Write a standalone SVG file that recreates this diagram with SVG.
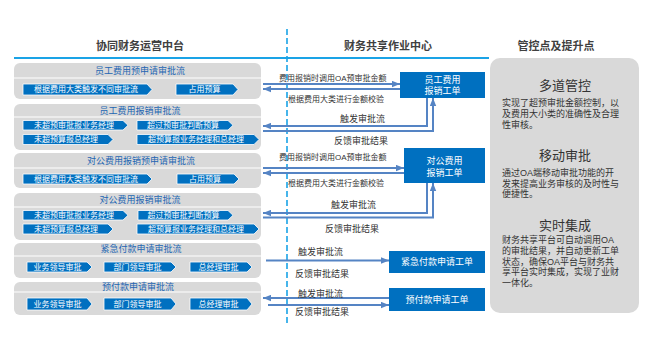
<svg xmlns="http://www.w3.org/2000/svg" width="650" height="346" viewBox="0 0 650 346">
<defs>
<style>
text{font-family:"Liberation Sans","Noto Sans CJK SC",sans-serif;dominant-baseline:central}
.title{font-size:11px;font-weight:bold;fill:#404040;text-anchor:middle}
.panel{fill:#d9d9d9}
.sep{stroke:#ffffff;stroke-width:1}
.hdr{font-size:9px;fill:#2466b2;text-anchor:middle}
.btn{fill:#0070c0;stroke:#ffffff;stroke-width:0.8}
.bt{font-size:8px;fill:#ffffff;text-anchor:middle}
.box{fill:#0070c0}
.boxt{font-size:9px;fill:#ffffff;text-anchor:middle}
.lbl{font-size:8px;fill:#333333}
.lbl9{font-size:9px;fill:#333333}
.conn{fill:none;stroke:#5584c4;stroke-width:2}
.rt{font-size:13px;fill:#333333;text-anchor:middle}
.rb{font-size:9px;fill:#333333}
</style>
<marker id="ah" viewBox="0 0 10 8" refX="10" refY="4" markerWidth="8" markerHeight="7" orient="auto" markerUnits="userSpaceOnUse">
<path d="M0,0 L10,4 L0,8 z" fill="#5584c4"/>
</marker>
</defs>
<rect width="650" height="346" fill="#ffffff"/>

<g id="headers">
<text class="title" x="140" y="46">协同财务运营中台</text>
<text class="title" x="388" y="46">财务共享作业中心</text>
<text class="title" x="556" y="46">管控点及提升点</text>
<line x1="14" y1="58" x2="489" y2="58" stroke="#1aa3e6" stroke-width="2.2"/>
<line x1="287" y1="29" x2="287" y2="324" stroke="#1aa3e6" stroke-width="1.6" stroke-dasharray="6,3"/>
</g>

<g id="p1">
<rect class="panel" x="14" y="63" width="247" height="36" rx="6"/>
<line class="sep" x1="14" y1="78" x2="261" y2="78"/>
<text class="hdr" x="140" y="71">员工费用预申请审批流</text>
<path class="btn" d="M23,84 H147 L152,89.5 L147,95 H23 Z"/>
<text class="bt" x="86" y="89.5">根据费用大类触发不同审批流</text>
<path class="btn" d="M176,84 H233 L238,89.5 L233,95 H176 Z"/>
<text class="bt" x="204.5" y="89.5">占用预算</text>
</g>

<g id="p2">
<rect class="panel" x="14" y="104" width="247" height="46" rx="6"/>
<line class="sep" x1="14" y1="117" x2="261" y2="117"/>
<text class="hdr" x="140" y="111">员工费用报销审批流</text>
<path class="btn" d="M23,120.5 H123 L128,125.3 L123,130 H23 Z"/>
<text class="bt" x="74" y="125.3">未超预审批报业务经理</text>
<path class="btn" d="M137,120.5 H228 L233,125.3 L228,130 H137 Z"/>
<text class="bt" x="183" y="125.3">超过预审批判断预算</text>
<path class="btn" d="M23,134.5 H108 L113,139.5 L108,144.5 H23 Z"/>
<text class="bt" x="66" y="139.5">未超预算报总经理</text>
<path class="btn" d="M137,134.5 H254 L259,139.5 L254,144.5 H137 Z"/>
<text class="bt" x="196" y="139.5">超预算报业务经理和总经理</text>
</g>

<g id="p3">
<rect class="panel" x="14" y="153" width="247" height="35" rx="6"/>
<line class="sep" x1="14" y1="168" x2="261" y2="168"/>
<text class="hdr" x="141" y="161">对公费用报销预申请审批流</text>
<path class="btn" d="M23,174 H147 L152,179 L147,184 H23 Z"/>
<text class="bt" x="86" y="179">根据费用大类触发不同审批流</text>
<path class="btn" d="M177,174 H234 L239,179 L234,184 H177 Z"/>
<text class="bt" x="205" y="179">占用预算</text>
</g>

<g id="p4">
<rect class="panel" x="14" y="193" width="247" height="47" rx="6"/>
<line class="sep" x1="14" y1="207" x2="261" y2="207"/>
<text class="hdr" x="140" y="200">对公费用报销审批流</text>
<path class="btn" d="M23,210.5 H123 L128,215.3 L123,220 H23 Z"/>
<text class="bt" x="74" y="215.3">未超预审批报业务经理</text>
<path class="btn" d="M138,210.5 H228 L233,215.3 L228,220 H138 Z"/>
<text class="bt" x="183.5" y="215.3">超过预审批判断预算</text>
<path class="btn" d="M23,224 H108 L113,229 L108,234 H23 Z"/>
<text class="bt" x="66" y="229">未超预算报总经理</text>
<path class="btn" d="M137,224 H254 L259,229 L254,234 H137 Z"/>
<text class="bt" x="196" y="229">超预算报业务经理和总经理</text>
</g>

<g id="p5">
<rect class="panel" x="14" y="243" width="247" height="35" rx="6"/>
<line class="sep" x1="14" y1="256" x2="261" y2="256"/>
<text class="hdr" x="141" y="249">紧急付款申请审批流</text>
<path class="btn" d="M27,262 H87 L92,267 L87,272 H27 Z"/>
<text class="bt" x="57.5" y="267">业务领导审批</text>
<path class="btn" d="M104,262 H171 L176,267 L171,272 H104 Z"/>
<text class="bt" x="137.5" y="267">部门领导审批</text>
<path class="btn" d="M190,262 H247 L252,267 L247,272 H190 Z"/>
<text class="bt" x="218.5" y="267">总经理审批</text>
</g>

<g id="p6">
<rect class="panel" x="14" y="282" width="247" height="33" rx="6"/>
<line class="sep" x1="14" y1="292" x2="261" y2="292"/>
<text class="hdr" x="138" y="287">预付款申请审批流</text>
<path class="btn" d="M27,298 H87 L92,304 L87,310 H27 Z"/>
<text class="bt" x="57.5" y="304">业务领导审批</text>
<path class="btn" d="M104,298 H171 L176,304 L171,310 H104 Z"/>
<text class="bt" x="137.5" y="304">部门领导审批</text>
<path class="btn" d="M190,298 H247 L252,304 L247,310 H190 Z"/>
<text class="bt" x="218.5" y="304">总经理审批</text>
</g>

<g id="wo1">
<rect class="box" x="400" y="72" width="85" height="26"/>
<text class="boxt" x="442.5" y="80">员工费用</text>
<text class="boxt" x="442.5" y="91">报销工单</text>
</g>
<g id="wo2">
<rect class="box" x="404" y="148" width="81" height="35"/>
<text class="boxt" x="444.5" y="161">对公费用</text>
<text class="boxt" x="444.5" y="173">报销工单</text>
</g>
<g id="wo3">
<rect class="box" x="389" y="251" width="96" height="22"/>
<text class="boxt" x="437" y="262">紧急付款申请工单</text>
</g>
<g id="wo4">
<rect class="box" x="389" y="288" width="96" height="23"/>
<text class="boxt" x="437" y="299.5">预付款申请工单</text>
</g>

<g id="connectors">
<path class="conn" d="M263,84 H400" marker-end="url(#ah)"/>
<path class="conn" d="M400,89 H263" marker-end="url(#ah)"/>
<path class="conn" d="M427,98 V126 H263" marker-end="url(#ah)"/>
<path class="conn" d="M263,131 H433 V98" marker-end="url(#ah)"/>
<path class="conn" d="M263,168 H404" marker-end="url(#ah)"/>
<path class="conn" d="M404,173 H263" marker-end="url(#ah)"/>
<path class="conn" d="M427,183 V213 H263" marker-end="url(#ah)"/>
<path class="conn" d="M263,217.5 H433 V183" marker-end="url(#ah)"/>
<path class="conn" d="M266,260.5 H389" marker-end="url(#ah)"/>
<path class="conn" d="M389,298 H263" marker-end="url(#ah)"/>
<path class="conn" d="M268,305 H389" marker-end="url(#ah)"/>
<text class="lbl" x="279" y="78">费用报销时调用OA预审批金额</text>
<text class="lbl" x="288" y="99">根据费用大类进行金额校验</text>
<text class="lbl9" x="340" y="119">触发审批流</text>
<text class="lbl9" x="334" y="141">反馈审批结果</text>
<text class="lbl" x="279" y="157">费用报销时调用OA预审批金额</text>
<text class="lbl" x="288" y="183">根据费用大类进行金额校验</text>
<text class="lbl9" x="331" y="205">触发审批流</text>
<text class="lbl9" x="325" y="229">反馈审批结果</text>
<text class="lbl9" x="298" y="252">触发审批流</text>
<text class="lbl9" x="295" y="274">反馈审批结果</text>
<text class="lbl9" x="298" y="293.5">触发审批流</text>
<text class="lbl9" x="295" y="312">反馈审批结果</text>
</g>

<g id="control">
<rect class="panel" x="490" y="58" width="149" height="255" rx="10"/>
<text class="rt" x="565" y="85">多道管控</text>
<text class="rb" x="502" y="103">实现了超预审批金额控制，以</text>
<text class="rb" x="502" y="114">及费用大小类的准确性及合理</text>
<text class="rb" x="502" y="125">性审核。</text>
<text class="rt" x="565" y="155">移动审批</text>
<text class="rb" x="502" y="173">通过OA端移动审批功能的开</text>
<text class="rb" x="502" y="183.5">发来提高业务审核的及时性与</text>
<text class="rb" x="502" y="194">便捷性。</text>
<text class="rt" x="565" y="225">实时集成</text>
<text class="rb" x="502" y="240">财务共享平台可自动调用OA</text>
<text class="rb" x="502" y="250.8">的审批结果，并自动更新工单</text>
<text class="rb" x="502" y="261.6">状态，确保OA平台与财务共</text>
<text class="rb" x="502" y="272.4">享平台实时集成，实现了业财</text>
<text class="rb" x="502" y="283.2">一体化。</text>
</g>
</svg>
